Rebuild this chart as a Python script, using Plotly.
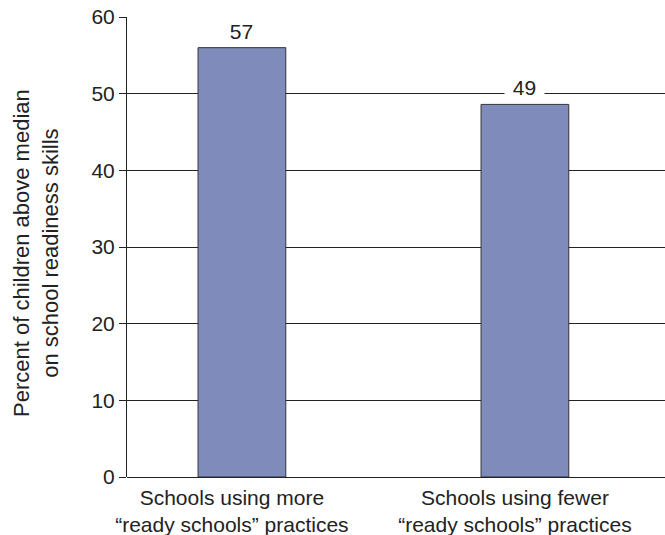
import plotly.graph_objects as go

categories = ["Schools using more<br>“ready schools” practices",
              "Schools using fewer<br>“ready schools” practices"]
bar_values = [56, 48.6]
bar_labels = ["57", "49"]
y_ticks = [0, 10, 20, 30, 40, 50, 60]
y_title = "Percent of children above median<br>on school readiness skills"

family = "Liberation Sans, Arial, sans-serif"
font = dict(family=family, size=21, color="#222")

fig = go.Figure()
fig.add_trace(go.Bar(
    x=[0, 1], y=bar_values, width=0.31,
    marker=dict(color="#7f8bba", line=dict(color="#333", width=1)),
    hoverinfo="skip",
))
for i, (v, t) in enumerate(zip(bar_values, bar_labels)):
    fig.add_annotation(x=i, y=v, text="&nbsp;" + t + "&nbsp;", showarrow=False,
                       yanchor="bottom", yshift=2, bgcolor="white", font=font,
                       borderpad=2)

fig.add_annotation(text=y_title, xref="paper", yref="paper", x=0, y=0.5,
                   xanchor="center", yanchor="middle", xshift=-91, yshift=-6,
                   textangle=-90, showarrow=False,
                   font=dict(family=family, size=22, color="#222"))

fig.update_layout(
    width=665, height=535,
    margin=dict(l=127, r=0, t=17, b=58),
    plot_bgcolor="white", paper_bgcolor="white",
    font=font, showlegend=False,
    xaxis=dict(range=[-0.406, 1.495], tickvals=[0, 1], ticktext=categories,
               showgrid=False, zeroline=False, showline=False, ticks="",
               tickfont=dict(size=21), ticklabelshift=-10, ticklabelstandoff=6),
    yaxis=dict(range=[0, 60], tickvals=y_ticks, showgrid=True, gridcolor="#222",
               gridwidth=1, zeroline=True, zerolinecolor="#222", zerolinewidth=1,
               showline=True, linecolor="#222", linewidth=1,
               ticks="outside", ticklen=7, tickcolor="#222",
               tickfont=dict(size=21)),
)
fig.write_html("out.html")
